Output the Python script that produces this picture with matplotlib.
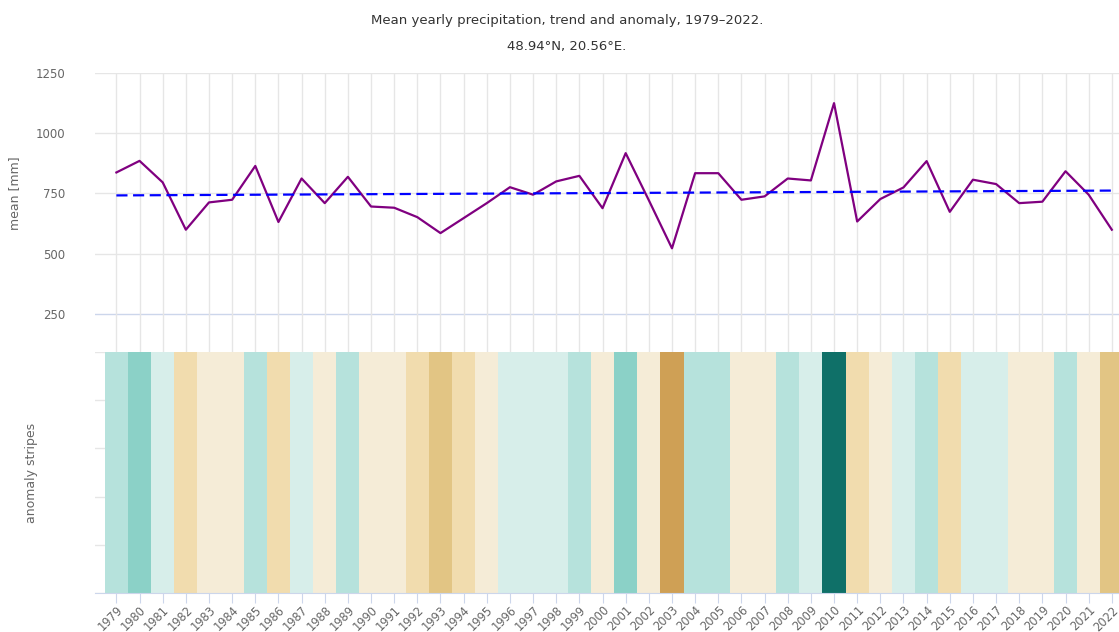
import matplotlib
matplotlib.use("Agg")
import matplotlib.pyplot as plt
import numpy as np

# dane
years = list(range(1979, 2023))
precip = [837, 885, 796, 600, 713, 724, 864, 632, 812, 710,
          819, 696, 691, 652, 586, 648, 710, 776, 745, 800,
          823, 689, 917, 722, 523, 834, 834, 724, 738, 812,
          804, 1124, 634, 727, 775, 884, 674, 807, 789, 710,
          716, 842, 745, 600]
trend_years = [1979, 2022]
trend_values = [742, 762]

# klasa anomalii dla każdego roku: 0 = najbardziej sucho, 7 = najbardziej mokro
anomaly_class = [5, 6, 4, 2, 3, 3, 5, 2, 4, 3,
                 5, 3, 3, 2, 1, 2, 3, 4, 4, 4,
                 5, 3, 6, 3, 0, 5, 5, 3, 3, 5,
                 4, 7, 2, 3, 4, 5, 2, 4, 4, 3,
                 3, 5, 3, 1]
stripe_colors = ["#cfa055", "#e2c584", "#f1dcae", "#f5ecd7",
                 "#d7eeea", "#b6e2dc", "#8bd1c7", "#0f7068"]

title = "Mean yearly precipitation, trend and anomaly, 1979\u20132022."
subtitle = "48.94°N, 20.56°E."

W, H = 1119, 632
fig = plt.figure(figsize=(W / 100, H / 100), dpi=100)

grid_c = "#e6e6e6"
axis_c = "#ccd6eb"
text_c = "#666666"

left = 95 / W
width = 1 - left
xlim = (1978.076, 2022.31)

top1, bot1 = 72.7, 351.7   # piksele górnego panelu
bot2 = 593.3               # dół paska anomalii

# górny panel - średnia i trend
ax1 = fig.add_axes([left, 1 - bot1 / H, width, (bot1 - top1) / H])
ax1.plot(years, precip, color="#800080", lw=1.6, zorder=3)
ax1.plot(trend_years, trend_values, color="#0000ff", lw=1.6,
         dashes=(5, 2.5), zorder=4)
ax1.set_xlim(xlim)
ax1.set_ylim(95, 1250)
ax1.set_yticks([250, 500, 750, 1000, 1250])
ax1.set_xticks(years)
ax1.tick_params(axis="x", length=0, labelbottom=False)
ax1.tick_params(axis="y", length=0, labelsize=8.5, labelcolor=text_c, pad=21.6)
for y in [500, 750, 1000, 1250]:
    ax1.axhline(y, color=grid_c, lw=1, zorder=1)
ax1.axhline(250, color=axis_c, lw=1, zorder=1)
for x in years:
    ax1.axvline(x, color=grid_c, lw=1, zorder=1)
for s in ax1.spines.values():
    s.set_visible(False)

# dolny panel - paski anomalii
ax2 = fig.add_axes([left, 1 - bot2 / H, width, (bot2 - bot1) / H])
for yr, c in zip(years, anomaly_class):
    ax2.bar(yr, 5, width=1.0, bottom=0, color=stripe_colors[c],
            edgecolor="none", zorder=2)
ax2.set_xlim(xlim)
ax2.set_ylim(0, 5)
ax2.set_yticks(range(6))
ax2.set_yticklabels([])
ax2.tick_params(axis="y", length=0)
for y in range(6):
    ax2.axhline(y, color=grid_c, lw=1, zorder=1)
ax2.set_xticks(years)
ax2.set_xticklabels([str(y) for y in years], rotation=45, ha="right",
                    rotation_mode="anchor", fontsize=8.3, color=text_c)
ax2.tick_params(axis="x", length=7, color=axis_c, pad=0.5)
for s in ["top", "left", "right"]:
    ax2.spines[s].set_visible(False)
ax2.spines["bottom"].set_color(axis_c)
ax2.spines["bottom"].set_zorder(3)

fig.text(15 / W, 1 - 193 / H, "mean [mm]", rotation=90, ha="center",
         va="center", fontsize=9, color=text_c)
fig.text(31 / W, 1 - 472.5 / H, "anomaly stripes", rotation=90, ha="center",
         va="center", fontsize=9, color=text_c)
fig.text(567 / W, 1 - 20.7 / H, title, ha="center", va="center",
         fontsize=9.5, color="#333333")
fig.text(567 / W, 1 - 46.7 / H, subtitle, ha="center", va="center",
         fontsize=9.5, color="#333333")

fig.savefig("out.png", dpi=100)
